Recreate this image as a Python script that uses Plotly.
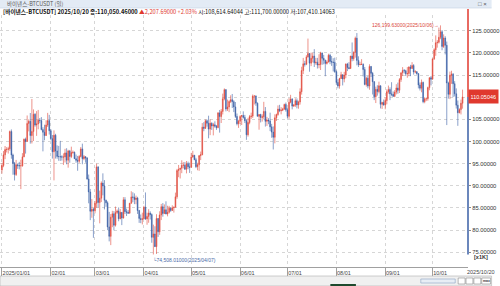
import plotly.graph_objects as go
import pandas as pd

# ---------------- data (values in thousands of USDT) ----------------
dates = pd.date_range("2025-01-01", "2025-10-20", freq="D")

open_ = [
    # Jan
    93.58, 94.59, 96.98, 98.17, 98.22, 98.36, 102.24, 96.95, 95.06, 92.55, 94.73, 94.56, 94.52, 94.52, 96.53, 100.50,
    99.99, 104.08, 104.56, 101.34, 102.26, 106.14, 103.71, 103.96, 104.82, 104.71, 102.68, 102.09, 101.33, 103.73, 104.72,
    # Feb
    102.43, 100.64, 97.69, 101.41, 97.87, 96.62, 96.59, 96.53, 96.48, 96.50, 97.43, 95.78, 97.87, 96.61, 97.50, 97.57,
    96.12, 95.77, 95.54, 96.64, 98.33, 96.13, 96.58, 96.27, 91.55, 88.62, 84.25, 84.71,
    # Mar
    84.35, 86.06, 94.27, 86.22, 87.22, 90.62, 89.96, 86.74, 86.15, 80.73, 78.60, 82.93, 83.68, 81.10, 83.98, 84.34,
    82.57, 84.01, 82.72, 86.85, 84.17, 84.04, 83.83, 86.08, 87.50, 87.39, 86.90, 87.23, 84.42, 82.65, 82.39,
    # Apr
    82.55, 85.16, 82.52, 83.10, 83.84, 83.50, 78.37, 79.14, 76.27, 82.62, 79.61, 83.42, 85.28, 83.74, 84.59, 83.63,
    84.03, 84.95, 84.45, 85.06, 85.17, 87.52, 93.44, 93.69, 93.98, 94.64, 94.65, 93.75, 94.98, 94.28,
    # May
    94.17, 96.49, 96.91, 95.89, 94.32, 94.75, 96.80, 97.03, 103.24, 102.97, 104.70, 104.12, 102.79, 104.13, 103.51, 103.76,
    103.46, 103.13, 106.45, 105.61, 106.79, 109.64, 111.70, 107.32, 107.79, 109.03, 109.44, 108.99, 107.80, 105.64, 103.99,
    # Jun
    104.59, 105.64, 105.88, 105.43, 104.70, 101.51, 104.29, 105.61, 105.73, 110.26, 110.27, 108.65, 105.67, 106.07, 105.41,
    105.59, 106.79, 104.55, 104.83, 104.65, 103.30, 102.12, 100.96, 105.33, 106.08, 107.32, 106.95, 107.05, 107.30, 108.36,
    # Jul
    107.14, 105.68, 108.85, 109.58, 107.98, 108.22, 109.20, 108.26, 108.92, 111.23, 116.01, 117.53, 117.42, 119.09, 119.84,
    117.68, 118.76, 119.29, 117.75, 117.89, 117.27, 117.38, 119.95, 118.76, 118.34, 117.61, 117.92, 119.45, 118.06, 117.92, 117.84,
    # Aug
    115.76, 113.32, 112.53, 114.21, 115.06, 114.12, 114.99, 117.47, 116.67, 116.46, 119.29, 118.68, 120.14, 123.31, 118.30,
    117.34, 117.38, 117.41, 116.23, 112.87, 114.27, 112.50, 116.94, 115.37, 113.49, 110.11, 111.76, 111.26, 112.57, 108.38, 108.82,
    # Sep
    108.25, 109.24, 111.24, 111.71, 110.73, 110.66, 110.19, 111.14, 112.07, 111.55, 113.96, 115.50, 116.03, 115.95, 115.27,
    115.35, 116.79, 116.47, 117.14, 115.69, 115.72, 115.31, 112.75, 112.01, 113.33, 108.99, 109.64, 109.64, 112.16, 114.40,
    # Oct
    114.06, 118.65, 120.68, 122.27, 122.39, 123.51, 124.75, 121.45, 123.35, 121.71, 113.21, 110.64, 114.96, 115.17, 113.03,
    110.76, 108.19, 106.47, 107.20, 108.61464,
]

high = [
    # Jan
    95.15, 97.84, 98.98, 98.73, 98.81, 102.48, 102.72, 97.26, 95.38, 95.84, 95.06, 95.40, 95.89, 97.37, 100.68, 100.87,
    105.87, 104.99, 106.42, 109.59, 107.24, 106.39, 106.85, 107.12, 105.29, 105.50, 103.22, 103.78, 104.78, 106.46, 106.01,
    # Feb
    102.78, 101.46, 102.50, 101.73, 99.12, 99.00, 100.14, 96.88, 97.32, 98.35, 98.48, 98.12, 98.09, 98.83, 97.97, 97.73,
    97.05, 96.74, 96.90, 98.76, 99.51, 96.95, 96.67, 96.50, 92.54, 89.29, 87.00, 85.12,
    # Mar
    86.56, 95.00, 94.42, 88.91, 91.00, 92.81, 91.28, 86.87, 86.50, 84.12, 83.62, 84.36, 84.30, 85.31, 84.67, 85.12,
    84.76, 84.01, 87.45, 87.45, 84.85, 84.55, 86.13, 88.77, 88.54, 88.29, 87.79, 87.52, 84.57, 83.53, 83.94,
    # Apr
    85.49, 88.50, 83.94, 84.72, 84.25, 83.76, 81.24, 80.87, 83.59, 82.70, 84.25, 85.91, 86.10, 85.80, 86.50, 85.50,
    85.47, 85.13, 85.60, 85.32, 88.46, 93.82, 94.70, 94.04, 95.76, 95.33, 95.35, 95.60, 95.46, 95.20,
    # May
    97.44, 97.90, 96.95, 96.32, 95.20, 96.95, 97.73, 104.15, 104.36, 104.98, 104.94, 105.82, 104.99, 104.31, 104.20, 104.55,
    103.70, 106.66, 107.11, 107.32, 110.80, 111.98, 111.80, 109.46, 109.30, 110.42, 110.72, 109.31, 108.91, 106.31, 104.90,
    # Jun
    105.92, 105.96, 106.80, 106.00, 105.00, 105.34, 105.99, 106.50, 110.60, 110.40, 110.39, 108.81, 106.18, 106.25, 106.13,
    108.95, 107.77, 105.55, 105.26, 106.50, 103.98, 103.40, 106.13, 106.29, 108.14, 108.27, 107.75, 107.60, 108.53, 108.79,
    # Jul
    107.54, 109.79, 110.53, 109.77, 108.43, 109.74, 109.72, 109.21, 111.99, 116.87, 118.87, 118.20, 119.49, 123.22, 119.94,
    120.06, 120.00, 120.83, 118.86, 118.86, 119.68, 120.25, 120.09, 119.54, 118.45, 118.30, 119.80, 119.80, 119.27, 118.79, 118.92,
    # Aug
    116.05, 114.04, 114.38, 115.72, 115.12, 115.72, 117.63, 117.73, 117.90, 119.31, 122.34, 120.32, 123.67, 124.47, 119.22,
    117.99, 118.58, 117.63, 116.80, 114.62, 114.80, 117.43, 117.00, 115.70, 113.64, 112.37, 112.69, 113.50, 112.65, 108.95, 109.47,
    # Sep
    109.91, 111.77, 112.62, 112.21, 113.38, 111.30, 111.60, 112.92, 113.29, 114.31, 115.56, 116.78, 116.35, 116.17, 116.78,
    117.00, 117.29, 117.90, 117.46, 116.10, 115.90, 115.44, 113.30, 113.98, 113.51, 110.00, 109.77, 112.38, 114.46, 114.79,
    # Oct
    118.65, 121.02, 123.94, 122.88, 125.71, 126.19963, 125.13, 124.17, 123.76, 122.55, 113.49, 115.77, 115.96, 115.45, 113.61,
    111.98, 109.24, 107.50, 109.45, 111.70,
]

low = [
    # Jan
    92.74, 94.20, 96.02, 97.53, 97.27, 97.91, 96.11, 92.50, 91.20, 92.21, 93.83, 93.71, 89.26, 94.31, 96.47, 97.27,
    99.95, 102.28, 99.52, 99.55, 100.11, 103.34, 101.26, 102.75, 104.11, 102.52, 97.78, 100.27, 101.26, 103.29, 101.56,
    # Feb
    100.28, 96.15, 91.23, 96.15, 96.11, 95.65, 95.62, 95.69, 94.71, 95.26, 94.85, 94.09, 95.21, 96.25, 97.22, 96.05,
    95.21, 93.39, 95.16, 96.42, 94.87, 95.77, 95.23, 91.37, 86.05, 82.26, 82.79, 78.26,
    # Mar
    83.79, 85.04, 85.08, 81.53, 86.33, 87.85, 84.67, 85.26, 80.00, 77.46, 76.62, 80.67, 79.94, 80.80, 83.64, 82.00,
    82.46, 81.13, 82.62, 83.63, 83.18, 83.64, 83.72, 85.94, 86.30, 85.86, 85.84, 83.65, 81.64, 81.57, 81.28,
    # Apr
    82.43, 82.32, 81.21, 81.66, 82.40, 77.15, 74.50801, 76.24, 74.62, 78.46, 78.93, 82.27, 83.03, 83.68, 83.60, 83.11,
    83.75, 84.13, 84.32, 83.95, 85.14, 87.07, 91.94, 91.65, 92.85, 93.92, 93.59, 92.80, 93.73, 92.91,
    # May
    94.13, 96.33, 95.78, 93.99, 93.51, 93.38, 95.80, 96.88, 102.32, 102.82, 103.35, 100.72, 101.43, 102.61, 101.38, 103.10,
    102.62, 102.99, 102.00, 104.17, 106.10, 109.29, 106.80, 106.89, 106.62, 108.68, 107.55, 106.63, 105.31, 103.63, 103.07,
    # Jun
    103.91, 103.72, 105.16, 104.16, 100.37, 101.10, 103.88, 105.06, 105.31, 108.35, 108.06, 105.67, 102.66, 104.30, 104.49,
    104.98, 103.37, 103.50, 103.90, 102.35, 100.84, 98.20, 99.58, 104.62, 105.80, 106.62, 106.12, 106.85, 107.20, 106.73,
    # Jul
    105.25, 105.10, 108.61, 107.25, 107.80, 107.80, 107.47, 107.40, 108.32, 110.58, 115.22, 116.91, 117.22, 118.91, 115.74,
    117.00, 117.84, 116.81, 117.30, 116.46, 116.52, 116.13, 117.30, 117.41, 114.72, 117.35, 117.85, 117.43, 117.06, 115.80, 115.50,
    # Aug
    112.72, 112.00, 111.92, 114.10, 112.65, 113.35, 114.27, 115.88, 116.30, 116.45, 118.10, 118.21, 118.92, 117.18, 116.80,
    117.20, 117.27, 114.67, 112.68, 112.38, 112.00, 111.68, 114.55, 110.60, 109.33, 108.67, 110.35, 110.86, 107.46, 107.35, 108.08,
    # Sep
    107.26, 108.39, 110.79, 109.33, 110.21, 110.05, 110.00, 110.62, 110.77, 110.94, 113.44, 114.76, 115.35, 114.77, 114.38,
    114.72, 114.74, 116.40, 115.10, 115.40, 115.08, 111.98, 111.50, 111.10, 108.63, 108.62, 109.11, 109.20, 111.56, 112.66,
    # Oct
    113.97, 118.38, 119.34, 121.17, 122.10, 123.08, 120.59, 121.10, 119.65, 103.70, 109.68, 109.56, 113.00, 110.02, 110.16,
    107.43, 103.53, 106.35, 106.10, 107.41014,
]

close = [
    # Jan
    94.59, 96.98, 98.17, 98.22, 98.36, 102.24, 96.95, 95.06, 92.55, 94.73, 94.56, 94.52, 94.53, 96.53, 100.50, 99.99,
    104.08, 104.56, 101.34, 102.26, 106.14, 103.71, 103.96, 104.82, 104.71, 102.68, 102.09, 101.33, 103.73, 104.72, 102.43,
    # Feb
    100.64, 97.69, 101.41, 97.87, 96.62, 96.59, 96.53, 96.48, 96.50, 97.43, 95.78, 97.87, 96.61, 97.50, 97.57, 96.12,
    95.77, 95.54, 96.64, 98.33, 96.13, 96.58, 96.27, 91.55, 88.62, 84.25, 84.71, 84.35,
    # Mar
    86.06, 94.27, 86.22, 87.22, 90.62, 89.96, 86.74, 86.15, 80.73, 78.60, 82.93, 83.68, 81.10, 83.98, 84.34, 82.57,
    84.01, 82.72, 86.85, 84.17, 84.04, 83.83, 86.08, 87.50, 87.39, 86.90, 87.23, 84.42, 82.65, 82.39, 82.55,
    # Apr
    85.16, 82.52, 83.10, 83.84, 83.50, 78.37, 79.14, 76.27, 82.62, 79.61, 83.42, 85.28, 83.74, 84.59, 83.63, 84.03,
    84.95, 84.45, 85.06, 85.17, 87.52, 93.44, 93.69, 93.98, 94.64, 94.65, 93.75, 94.98, 94.28, 94.17,
    # May
    96.49, 96.91, 95.89, 94.32, 94.75, 96.80, 97.03, 103.24, 102.97, 104.70, 104.12, 102.79, 104.13, 103.51, 103.76, 103.46,
    103.13, 106.45, 105.61, 106.79, 109.64, 111.70, 107.32, 107.79, 109.03, 109.44, 108.99, 107.80, 105.64, 103.99, 104.59,
    # Jun
    105.64, 105.88, 105.43, 104.70, 101.51, 104.29, 105.61, 105.73, 110.26, 110.27, 108.65, 105.67, 106.07, 105.41, 105.59,
    106.79, 104.55, 104.83, 104.65, 103.30, 102.12, 100.96, 105.33, 106.08, 107.32, 106.95, 107.05, 107.30, 108.36, 107.14,
    # Jul
    105.68, 108.85, 109.58, 107.98, 108.22, 109.20, 108.26, 108.92, 111.23, 116.01, 117.53, 117.42, 119.09, 119.84, 117.68,
    118.76, 119.29, 117.75, 117.89, 117.27, 117.38, 119.95, 118.76, 118.34, 117.61, 117.92, 119.45, 118.06, 117.92, 117.84, 115.76,
    # Aug
    113.32, 112.53, 114.21, 115.06, 114.12, 114.99, 117.47, 116.67, 116.46, 119.29, 118.68, 120.14, 123.31, 118.30, 117.34,
    117.38, 117.41, 116.23, 112.87, 114.27, 112.50, 116.94, 115.37, 113.49, 110.11, 111.76, 111.26, 112.57, 108.38, 108.82, 108.25,
    # Sep
    109.24, 111.24, 111.71, 110.73, 110.66, 110.19, 111.14, 112.07, 111.55, 113.96, 115.50, 116.03, 115.95, 115.27, 115.35,
    116.79, 116.47, 117.14, 115.69, 115.72, 115.31, 112.75, 112.01, 113.33, 108.99, 109.64, 109.64, 112.16, 114.40, 114.06,
    # Oct
    118.65, 120.68, 122.27, 122.39, 123.51, 124.75, 121.45, 123.35, 121.71, 113.21, 110.64, 114.96, 115.17, 113.03, 110.76,
    108.19, 106.47, 107.20, 108.64, 110.05046,
]

month_ticks = ["2025-01-01", "2025-02-01", "2025-03-01", "2025-04-01", "2025-05-01", "2025-06-01",
               "2025-07-01", "2025-08-01", "2025-09-01", "2025-10-01"]
month_labels = ["2025/01/01", "02/01", "03/01", "04/01", "05/01", "06/01", "07/01", "08/01", "09/01", "10/01"]
y_ticks = [75, 80, 85, 90, 95, 100, 105, 110, 115, 120, 125]
hidden_tick = 110  # covered by the current-price tag in the reference
y_labels = ["" if v == hidden_tick else f"{v:.5f}" for v in y_ticks]
last_label = "2025/10/20"
title_text = "바이낸스-BTCUSDT (일)"
info_text = ("<b>[바이낸스-BTCUSDT] 2025/10/20 종:110,050.46000</b> "
             "<span style='color:#e0392e'>▲2,207.69000 +2.03%</span> "
             "시:108,614.64044 고:111,700.00000 저:107,410.14063")

# ---------------- style ----------------
UP = "#e04a3c"
DN = "#3a5fa6"
W, H = 500, 286
ML, MR, MT, MB = 0, 24, 15, 19
PW, PH = W - ML - MR, H - MT - MB
X_RANGE = ["2024-12-30 18:50", "2025-10-23 10:50"]
Y_RANGE = [71.68, 128.54]
FONT = "Liberation Sans, Arial, sans-serif"
KFONT = "Noto Sans CJK KR, sans-serif"


def px(xp):
    return (xp - ML) / PW


def py(yp):
    return (H - MB - yp) / PH


fig = go.Figure()
fig.add_trace(go.Candlestick(
    x=dates, open=open_, high=high, low=low, close=close,
    increasing=dict(line=dict(color=UP, width=0.6), fillcolor=UP),
    decreasing=dict(line=dict(color=DN, width=0.6), fillcolor=DN),
    whiskerwidth=0, showlegend=False, hoverinfo="skip",
))

shapes = []
# header bar
shapes.append(dict(type="rect", xref="paper", yref="paper", x0=px(0), x1=px(W), y0=py(8), y1=py(0),
                   fillcolor="#e3ebf5", line=dict(width=0), layer="above"))
shapes.append(dict(type="line", xref="paper", yref="paper", x0=px(0), x1=px(W), y0=py(8), y1=py(8),
                   line=dict(color="#c5d2e2", width=0.6)))
# right price rail
last_close = close[-1]
shapes.append(dict(type="line", xref="paper", yref="y", x0=1, x1=1, y0=last_close, y1=Y_RANGE[1],
                   line=dict(color="#e0392e", width=1.5)))
shapes.append(dict(type="line", xref="paper", yref="paper", x0=1, x1=1, y0=1, y1=py(9),
                   line=dict(color="#e0392e", width=1.5)))
shapes.append(dict(type="line", xref="paper", yref="y", x0=1, x1=1, y0=min(low), y1=last_close,
                   line=dict(color="#3a5fa6", width=1.5)))
# bottom scroll strip
shapes.append(dict(type="rect", xref="paper", yref="paper", x0=px(0), x1=px(W), y0=py(H), y1=py(276),
                   fillcolor="#f0f0f0", line=dict(color="#b0b0b0", width=0.6)))
shapes.append(dict(type="rect", xref="paper", yref="paper", x0=px(428), x1=px(463), y0=py(283), y1=py(279),
                   fillcolor="#e8eef5", line=dict(color="#8aa3c2", width=0.6)))
for bx in (466, 474, 482):
    shapes.append(dict(type="rect", xref="paper", yref="paper", x0=px(bx), x1=px(bx + 7), y0=py(284), y1=py(278),
                       fillcolor="#ffffff", line=dict(color="#8a8a8a", width=0.6)))
shapes.append(dict(type="rect", xref="paper", yref="paper", x0=px(490), x1=px(499), y0=py(284), y1=py(278),
                   fillcolor="#ffffff", line=dict(color="#8a8a8a", width=0.6)))
shapes.append(dict(type="rect", xref="paper", yref="paper", x0=px(336), x1=px(362), y0=py(286), y1=py(284),
                   fillcolor="#1e4a2e", line=dict(width=0)))

ann = []
ann.append(dict(xref="paper", yref="paper", x=px(5), y=py(4), xanchor="left", yanchor="middle",
                text=title_text, showarrow=False, font=dict(family=KFONT, size=5.5, color="#5a5a5a")))
ann.append(dict(xref="paper", yref="paper", x=px(497), y=py(4), xanchor="right", yanchor="middle",
                text="□ ×", showarrow=False, font=dict(family=FONT, size=6, color="#555")))
ann.append(dict(xref="paper", yref="paper", x=px(1), y=py(11.8), xanchor="left", yanchor="middle",
                text=info_text, showarrow=False, font=dict(family=KFONT, size=5.7, color="#111")))
# max / min labels
imax = max(range(len(high)), key=lambda i: high[i])
imin = min(range(len(low)), key=lambda i: low[i])
ann.append(dict(x=dates[imax], y=high[imax], xref="x", yref="y", xanchor="right", yanchor="middle",
                text=f"{high[imax]*1000:,.5f}({dates[imax]:%Y/%m/%d})→", showarrow=False, xshift=1,
                font=dict(family=FONT, size=5, color="#d9453a")))
ann.append(dict(x=dates[imin], y=low[imin], xref="x", yref="y", xanchor="left", yanchor="top",
                text=f"└{low[imin]*1000:,.5f}({dates[imin]:%Y/%m/%d})", showarrow=False, xshift=-2, yshift=-1,
                font=dict(family=FONT, size=5, color="#4a6aa8")))
# price tag
ann.append(dict(x=1, y=last_close, xref="paper", yref="y", xanchor="left", yanchor="middle",
                text=f"{last_close:.5f}", showarrow=False, bgcolor="#e0392e", borderpad=1.5, height=10,
                font=dict(family=FONT, size=5.5, color="#ffffff")))
ann.append(dict(xref="paper", yref="paper", x=px(480), y=py(256.5), xanchor="left", yanchor="middle",
                text="<b>[x1K]</b>", showarrow=False, font=dict(family=FONT, size=5.5, color="#333")))
ann.append(dict(x=dates[-1], xref="x", yref="paper", y=py(271.5), xanchor="left", yanchor="middle",
                text=last_label, showarrow=False, xshift=2, font=dict(family=FONT, size=5.5, color="#444")))
ann.append(dict(xref="paper", yref="paper", x=px(494.5), y=py(281), xanchor="center", yanchor="middle",
                text="<b>max</b>", showarrow=False, font=dict(family=FONT, size=3.5, color="#333")))

fig.update_layout(
    width=W, height=H, margin=dict(l=ML, r=MR, t=MT, b=MB, pad=0),
    paper_bgcolor="#ffffff", plot_bgcolor="#ffffff",
    shapes=shapes, annotations=ann, showlegend=False,
    xaxis=dict(type="date", range=X_RANGE, rangeslider=dict(visible=False),
               tickvals=month_ticks, ticktext=month_labels, ticklabelposition="outside right",
               ticks="outside", ticklen=9, tickcolor="#a0a0a0", tickwidth=0.6,
               showgrid=True, gridcolor="#d6d6d6", griddash="dot", gridwidth=0.8,
               showline=True, linecolor="#a0a0a0", linewidth=0.8, mirror=False,
               tickfont=dict(family=FONT, size=5.5, color="#444"), zeroline=False, fixedrange=True),
    yaxis=dict(side="right", range=Y_RANGE, tickvals=y_ticks, ticktext=y_labels,
               ticks="outside", ticklen=2, tickcolor="#888", tickwidth=0.6,
               showgrid=True, gridcolor="#d6d6d6", griddash="dot", gridwidth=0.8,
               showline=False, zeroline=False,
               tickfont=dict(family=FONT, size=5.8, color="#333"), fixedrange=True),
)

fig.write_html("out.html")
